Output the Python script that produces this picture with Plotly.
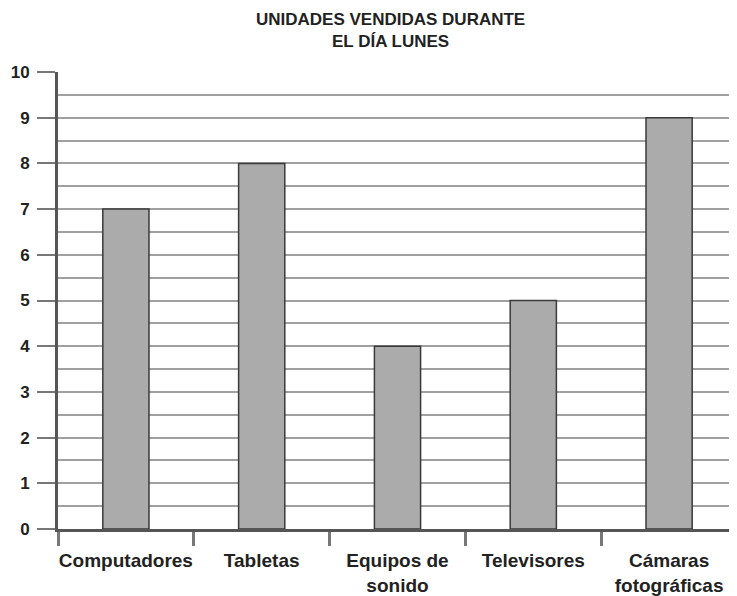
import plotly.graph_objects as go

categories = ["Computadores", "Tabletas", "Equipos de<br>sonido", "Televisores", "Cámaras<br>fotográficas"]
values = [7, 8, 4, 5, 9]
y_ticks = list(range(0, 11))
title_text = "UNIDADES VENDIDAS DURANTE<br>EL DÍA LUNES"

font_family = "Liberation Sans, Arial, sans-serif"

fig = go.Figure(
    go.Bar(
        x=categories,
        y=values,
        marker=dict(color="#ababab", line=dict(color="#3a3a3a", width=1.5)),
    )
)

# page body adds an 8px margin, so the figure is 8px smaller than the window
fig.update_layout(
    width=729,
    height=588,
    autosize=False,
    margin=dict(l=50, r=0, t=64, b=67, autoexpand=False),
    paper_bgcolor="white",
    plot_bgcolor="white",
    bargap=0.66,
    showlegend=False,
    annotations=[
        dict(
            text=f"<b>{title_text}</b>",
            x=0.489,
            xanchor="center",
            xref="paper",
            y=1.14,
            yanchor="top",
            yref="paper",
            showarrow=False,
            align="center",
            font=dict(family=font_family, size=17, color="#222"),
        )
    ],
)

fig.update_yaxes(
    automargin=False,
    range=[0, 10],
    tickvals=y_ticks,
    ticktext=[f"<b>{v}</b>" for v in y_ticks],
    ticks="outside",
    ticklen=18,
    tickwidth=2,
    tickcolor="#777",
    ticklabelstandoff=4,
    showline=True,
    linewidth=3,
    linecolor="#555",
    showgrid=True,
    gridcolor="#a0a0a0",
    gridwidth=1.5,
    minor=dict(dtick=0.5, showgrid=True, gridcolor="#a0a0a0", gridwidth=1.5, ticks=""),
    zeroline=False,
    tickfont=dict(family=font_family, size=17, color="#222"),
)

fig.update_xaxes(
    automargin=False,
    type="category",
    tickson="boundaries",
    ticks="outside",
    ticklen=14,
    tickwidth=3,
    tickcolor="#777",
    tickangle=0,
    ticklabelstandoff=12,
    showline=True,
    linewidth=3,
    linecolor="#555",
    showgrid=False,
    tickfont=dict(family=font_family, size=19, color="#222"),
    ticktext=[f"<b>{c}</b>" for c in categories],
    tickvals=categories,
)

fig.write_html("out.html")
